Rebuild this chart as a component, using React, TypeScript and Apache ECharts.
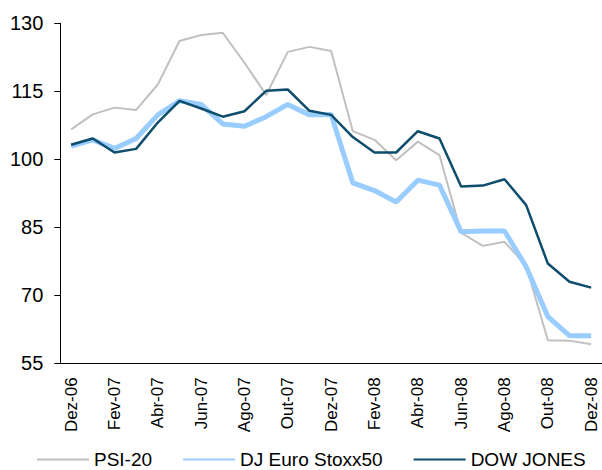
import React, { useEffect, useRef } from "react";
import * as echarts from "echarts";

const categories = [
  "Dez-06", "Jan-07", "Fev-07", "Mar-07", "Abr-07", "Mai-07", "Jun-07", "Jul-07", "Ago-07", "Set-07",
  "Out-07", "Nov-07", "Dez-07", "Jan-08", "Fev-08", "Mar-08", "Abr-08", "Mai-08", "Jun-08", "Jul-08",
  "Ago-08", "Set-08", "Out-08", "Nov-08", "Dez-08",
];

const psi20 = [
  106.6, 109.9, 111.4, 110.9, 116.5, 126.1, 127.4, 127.9, 121.3, 114.2,
  123.7, 124.8, 123.9, 106.2, 104.3, 99.8, 103.9, 100.9, 83.8, 80.9,
  81.8, 76.5, 60.1, 60.0, 59.2,
];

const djEuroStoxx50 = [
  102.9, 104.3, 102.4, 104.6, 109.8, 112.9, 112.1, 107.8, 107.3, 109.4,
  112.1, 109.8, 109.9, 94.8, 93.1, 90.6, 95.4, 94.3, 84.0, 84.2,
  84.2, 76.3, 65.3, 61.1, 61.1,
];

const dowJones = [
  103.2, 104.6, 101.5, 102.3, 108.1, 112.9, 111.2, 109.4, 110.6, 115.1,
  115.4, 110.7, 109.8, 104.9, 101.5, 101.5, 106.2, 104.6, 94.0, 94.2,
  95.6, 89.9, 77.0, 73.0, 71.7,
];

const yTicks = { min: 55, max: 130, interval: 15 };

const FONT = "Liberation Sans, Arial, sans-serif";

export default function App() {
  const ref = useRef<HTMLDivElement>(null);

  useEffect(() => {
    document.body.style.margin = "0";
    if (!ref.current) return;
    const chart = echarts.init(ref.current, undefined, { renderer: "svg" });
    chart.setOption({
      animation: false,
      backgroundColor: "#ffffff",
      grid: { left: 60.3, top: 23.3, width: 545.5, height: 340 },
      legend: {
        left: 36,
        top: 450,
        padding: 0,
        itemWidth: 52,
        itemHeight: 14,
        itemGap: 30,
        itemStyle: { opacity: 0 },
        textStyle: { fontFamily: FONT, fontSize: 19, color: "#000" },
        data: ["PSI-20", "DJ Euro Stoxx50", "DOW JONES"],
      },
      xAxis: {
        type: "category",
        data: categories,
        boundaryGap: true,
        axisLine: { lineStyle: { color: "#000", width: 1 } },
        axisTick: { interval: 1, length: 5, lineStyle: { color: "#000" } },
        axisLabel: {
          interval: 1,
          rotate: 90,
          margin: 14,
          fontFamily: FONT,
          fontSize: 17,
          color: "#000",
        },
        splitLine: { show: false },
      },
      yAxis: {
        type: "value",
        min: yTicks.min,
        max: yTicks.max,
        interval: yTicks.interval,
        axisLine: { show: true, lineStyle: { color: "#000", width: 1 } },
        axisTick: { show: true, length: 6, lineStyle: { color: "#000" } },
        axisLabel: { margin: 17, fontFamily: FONT, fontSize: 20, color: "#000" },
        splitLine: { show: false },
      },
      series: [
        {
          name: "PSI-20",
          type: "line",
          data: psi20,
          symbol: "none",
          lineStyle: { color: "#C0C0C0", width: 2 },
          itemStyle: { color: "#C0C0C0" },
        },
        {
          name: "DJ Euro Stoxx50",
          type: "line",
          data: djEuroStoxx50,
          symbol: "none",
          lineStyle: { color: "#99CCFF", width: 5 },
          itemStyle: { color: "#99CCFF" },
        },
        {
          name: "DOW JONES",
          type: "line",
          data: dowJones,
          symbol: "none",
          lineStyle: { color: "#0E4D6C", width: 2.5 },
          itemStyle: { color: "#0E4D6C" },
        },
      ],
    });
    return () => chart.dispose();
  }, []);

  return (
    <div
      ref={ref}
      style={{ position: "fixed", left: 0, top: 0, width: 602, height: 470 }}
    />
  );
}
